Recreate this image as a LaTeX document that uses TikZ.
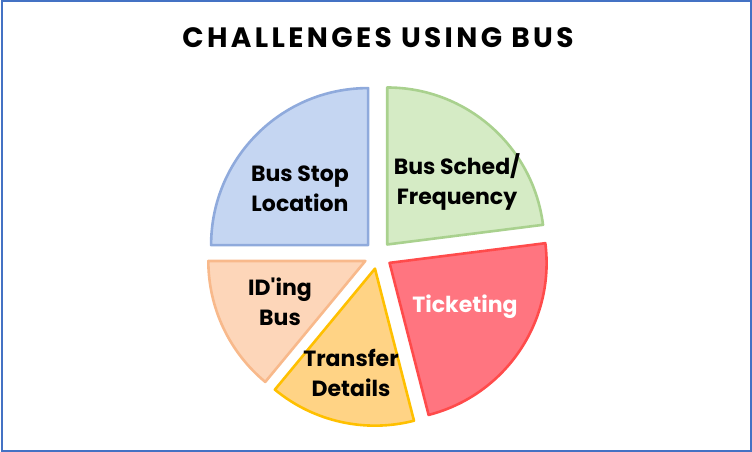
\documentclass[tikz,border=0pt]{standalone}
\usepackage{fontspec}
\setmainfont{Poppins}
\newfontfamily\titlefont[LetterSpace=12]{Poppins}
\usepackage{tikz}

\definecolor{frameblue}{HTML}{4472C4}
\definecolor{stopfill}{HTML}{C5D6F2}
\definecolor{stopline}{HTML}{8FAADC}
\definecolor{schedfill}{HTML}{D5EBC5}
\definecolor{schedline}{HTML}{A9D18E}
\definecolor{ticketfill}{HTML}{FF7580}
\definecolor{ticketline}{HTML}{FF4B4B}
\definecolor{transferfill}{HTML}{FFD385}
\definecolor{transferline}{HTML}{FFC000}
\definecolor{idfill}{HTML}{FDD6B9}
\definecolor{idline}{HTML}{F8B98B}

\tikzset{
  slice/.style={line width=2.6pt,line join=round},
  stopslice/.style={slice,fill=stopfill,draw=stopline},
  schedslice/.style={slice,fill=schedfill,draw=schedline},
  ticketslice/.style={slice,fill=ticketfill,draw=ticketline},
  transferslice/.style={slice,fill=transferfill,draw=transferline},
  idslice/.style={slice,fill=idfill,draw=idline},
  label/.style={align=center,inner sep=0pt,font=\bfseries\fontsize{22}{30.5}\selectfont}
}

\begin{document}
\begin{tikzpicture}[x=1pt,y=1pt]
\useasboundingbox (0,0) rectangle (752,452);
\draw[frameblue,line width=2pt] (1.5,1) rectangle (751,451);

% title
\node (title) at (378,414) {\titlefont\bfseries\fontsize{28}{30}\selectfont CHALLENGES USING BUS};

% pie, each slice pushed out from the centre
\coordinate (C) at (378,197);
\foreach \a/\b/\s in {7.2/90/schedslice,-75.6/7.2/ticketslice,-129.6/-75.6/transferslice,-180/-129.6/idslice,90/180/stopslice}{
  \pgfmathsetmacro\m{(\a+\b)/2}
  \path (C) ++(\m:14) coordinate (apex);
  \draw[\s] (apex) -- ++(\a:157) arc[start angle=\a,end angle=\b,radius=157] -- cycle;
}

\node[label] (stop) at (300,263) {Bus Stop\\Location};
\node[label] (sched) at (457,270) {Bus Sched/\\Frequency};
\node[label,white] (ticket) at (465,145) {Ticketing};
\node[label] (iding) at (280,150) {ID\textquotesingle ing\\Bus};
\node[label] (transfer) at (351,79) {Transfer\\Details};
\end{tikzpicture}
\end{document}
